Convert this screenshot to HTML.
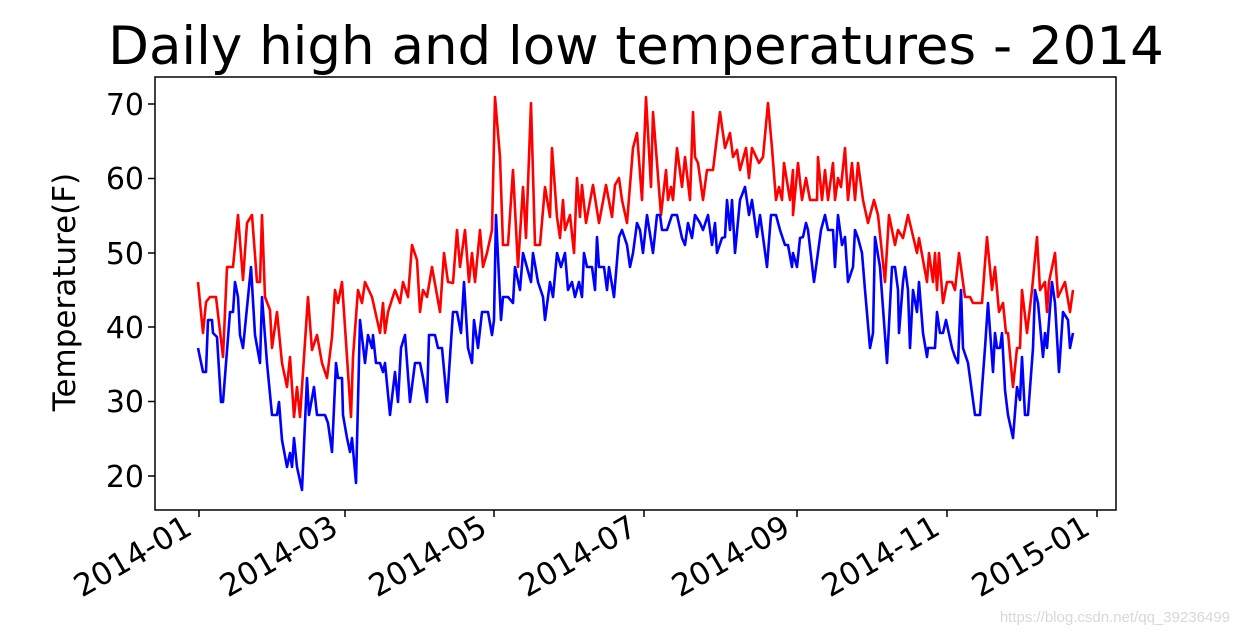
<!DOCTYPE html>
<html><head><meta charset="utf-8"><style>
html,body{margin:0;padding:0;background:#fff;}
svg{display:block;font-family:"DejaVu Sans","Liberation Sans",sans-serif;}
</style></head><body>
<svg width="1239" height="636" viewBox="0 0 1239 636">
<rect width="1239" height="636" fill="#fff"/>
<text x="636" y="64" font-size="53" text-anchor="middle" fill="#000">Daily high and low temperatures - 2014</text>
<g stroke="#000" stroke-width="1.5">
<line x1="148" y1="104" x2="155" y2="104"/><line x1="148" y1="178.5" x2="155" y2="178.5"/>
<line x1="148" y1="253" x2="155" y2="253"/><line x1="148" y1="327" x2="155" y2="327"/>
<line x1="148" y1="401.5" x2="155" y2="401.5"/><line x1="148" y1="476" x2="155" y2="476"/>
<line x1="199" y1="510" x2="199" y2="517"/><line x1="345" y1="510" x2="345" y2="517"/>
<line x1="494" y1="510" x2="494" y2="517"/><line x1="644" y1="510" x2="644" y2="517"/>
<line x1="797" y1="510" x2="797" y2="517"/><line x1="947" y1="510" x2="947" y2="517"/>
<line x1="1097" y1="510" x2="1097" y2="517"/>
</g>
<g font-size="30" text-anchor="end" fill="#000">
<text x="144" y="115">70</text><text x="144" y="189">60</text><text x="144" y="264">50</text>
<text x="144" y="338">40</text><text x="144" y="412">30</text><text x="144" y="487">20</text>
</g>
<text transform="translate(75,292) rotate(-90)" font-size="31" text-anchor="middle">Temperature(F)</text>
<g font-size="31" text-anchor="end" fill="#000">
<text transform="translate(194,533) rotate(-30)">2014-01</text>
<text transform="translate(340,533) rotate(-30)">2014-03</text>
<text transform="translate(489,533) rotate(-30)">2014-05</text>
<text transform="translate(639,533) rotate(-30)">2014-07</text>
<text transform="translate(792,533) rotate(-30)">2014-09</text>
<text transform="translate(942,533) rotate(-30)">2014-11</text>
<text transform="translate(1092,533) rotate(-30)">2015-01</text>
</g>
<polyline fill="none" stroke="#ff0000" stroke-width="2.6" stroke-linejoin="round" points="198,282 203,333 206,302 210,297 216,297 223,357 227,267 233,267 238,215 243,280 247,223 252,215 257,282 260,282 262,215 265,297 270,310 272,348 277,312 282,363 287,387 290,357 294,417 297,387 300,417 308,297 312,350 317,335 322,363 327,378 332,337 335,290 338,303 342,282 351,417 353,357 358,290 362,303 365,282 372,297 380,333 383,303 385,333 388,312 395,290 400,303 403,282 408,297 412,245 417,260 420,312 423,290 427,297 432,267 440,312 444,253 448,282 453,283 457,230 460,267 465,230 469,282 472,253 475,282 480,230 483,267 487,253 492,230 495,97 500,157 503,245 508,245 513,170 518,267 523,187 526,238 531,103 535,245 540,245 545,187 550,217 552,148 557,217 560,238 563,200 565,230 570,215 574,253 577,178 580,217 582,185 586,223 593,185 599,223 606,185 612,217 615,185 619,178 622,200 627,223 633,148 637,133 642,200 646,97 651,187 653,112 657,163 661,215 666,170 668,200 671,187 673,200 677,148 682,187 685,157 690,200 693,112 695,157 698,163 703,200 707,170 713,170 720,112 725,148 730,133 733,157 737,150 740,170 746,148 749,178 752,148 759,163 763,157 768,103 772,148 776,200 779,187 782,200 784,163 790,200 793,170 793,215 798,163 802,200 806,178 810,200 817,200 818,157 822,200 825,170 828,200 833,163 835,200 838,178 841,187 845,148 848,200 852,163 855,200 858,163 863,200 868,223 874,200 878,215 885,282 889,215 895,245 898,230 903,238 908,215 917,253 919,238 927,282 929,253 933,282 935,253 937,290 939,253 943,303 947,282 952,282 955,290 959,253 965,297 970,297 973,303 982,303 987,237 992,290 995,267 999,312 1003,303 1006,333 1008,333 1013,387 1017,348 1020,348 1022,290 1027,333 1032,290 1037,237 1040,290 1045,282 1047,312 1049,282 1055,253 1058,297 1065,282 1070,312 1073,290"/>
<polyline fill="none" stroke="#0000ff" stroke-width="2.6" stroke-linejoin="round" points="198,348 203,372 206,372 208,320 212,320 213,333 217,337 221,402 223,402 230,312 233,312 235,282 238,297 240,335 243,348 251,267 255,335 260,363 262,297 267,363 272,415 277,415 279,402 282,440 287,467 290,453 292,467 294,438 297,467 302,490 307,378 309,415 314,387 317,415 325,415 328,423 332,452 336,363 338,378 342,378 343,415 347,438 350,452 352,438 356,483 360,320 365,363 368,335 372,348 373,335 376,363 380,363 383,372 385,363 390,415 395,372 398,402 401,348 405,335 410,402 415,363 420,363 423,378 427,402 429,335 435,335 438,348 442,348 447,402 453,312 457,312 461,333 464,282 468,348 472,363 474,320 478,348 482,312 488,312 492,335 494,320 496,215 501,320 503,297 508,297 513,303 515,267 520,290 523,253 531,282 533,253 538,282 543,297 545,320 550,282 553,297 557,253 561,267 565,253 568,290 572,282 575,297 579,282 582,297 584,253 587,267 592,267 595,290 597,237 599,267 604,267 607,290 609,267 614,297 619,237 622,230 627,245 630,267 633,253 637,223 640,230 643,253 647,215 653,253 657,215 660,215 662,230 667,230 672,215 677,215 682,238 685,245 688,223 692,238 695,215 700,223 703,230 708,215 712,245 715,223 717,253 722,238 725,237 727,200 730,230 732,200 735,253 740,200 745,187 749,215 752,200 757,237 760,215 763,237 767,267 771,215 776,215 780,230 785,245 788,245 792,267 793,253 797,267 800,238 803,237 806,223 808,230 814,282 821,230 825,215 828,230 833,230 835,267 838,215 842,245 845,237 848,282 853,267 855,230 858,238 862,253 865,290 870,348 873,333 875,237 880,267 887,363 892,267 895,267 898,290 899,333 903,282 905,267 908,290 910,348 913,290 917,312 919,282 923,333 927,357 928,348 935,348 937,312 940,333 943,333 946,320 952,348 955,357 958,363 961,290 963,348 968,363 975,415 980,415 985,348 988,303 993,372 995,333 997,348 1000,348 1002,333 1005,390 1008,415 1013,438 1017,387 1020,400 1022,357 1025,415 1028,415 1033,348 1035,290 1038,303 1043,357 1045,333 1047,348 1052,282 1055,303 1059,372 1063,312 1068,320 1070,348 1073,333"/>
<rect x="155" y="77" width="961" height="433" fill="none" stroke="#000" stroke-width="1.5"/>
<text x="1230" y="622" font-size="15" text-anchor="end" fill="#d8d8d8" font-family="Liberation Sans, sans-serif">https://blog.csdn.net/qq_39236499</text>
</svg>
</body></html>
